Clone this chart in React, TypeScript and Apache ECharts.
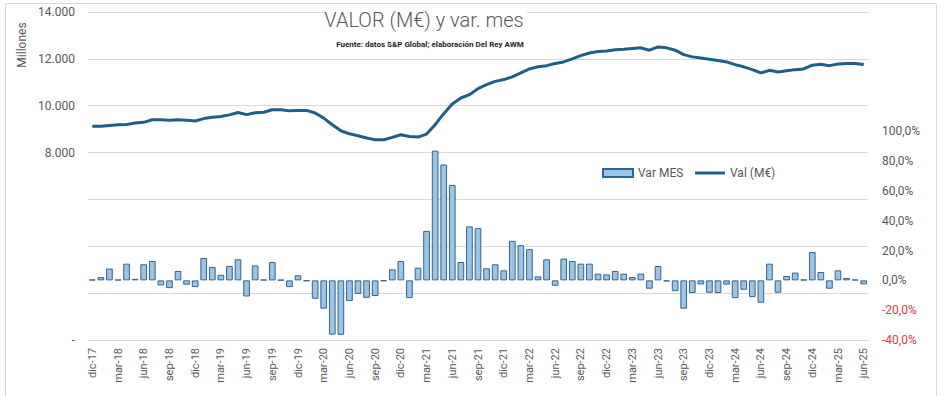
import React, { useEffect, useRef } from 'react';
import * as echarts from 'echarts';

const categories = [
  'dic-17',
  'ene-18', 'feb-18', 'mar-18', 'abr-18', 'may-18', 'jun-18', 'jul-18', 'ago-18', 'sep-18', 'oct-18', 'nov-18', 'dic-18',
  'ene-19', 'feb-19', 'mar-19', 'abr-19', 'may-19', 'jun-19', 'jul-19', 'ago-19', 'sep-19', 'oct-19', 'nov-19', 'dic-19',
  'ene-20', 'feb-20', 'mar-20', 'abr-20', 'may-20', 'jun-20', 'jul-20', 'ago-20', 'sep-20', 'oct-20', 'nov-20', 'dic-20',
  'ene-21', 'feb-21', 'mar-21', 'abr-21', 'may-21', 'jun-21', 'jul-21', 'ago-21', 'sep-21', 'oct-21', 'nov-21', 'dic-21',
  'ene-22', 'feb-22', 'mar-22', 'abr-22', 'may-22', 'jun-22', 'jul-22', 'ago-22', 'sep-22', 'oct-22', 'nov-22', 'dic-22',
  'ene-23', 'feb-23', 'mar-23', 'abr-23', 'may-23', 'jun-23', 'jul-23', 'ago-23', 'sep-23', 'oct-23', 'nov-23', 'dic-23',
  'ene-24', 'feb-24', 'mar-24', 'abr-24', 'may-24', 'jun-24', 'jul-24', 'ago-24', 'sep-24', 'oct-24', 'nov-24', 'dic-24',
  'ene-25', 'feb-25', 'mar-25', 'abr-25', 'may-25', 'jun-25',
];

// Var MES (%), right axis
const varMes = [
  0.5,
  2.2, 7.9, 0.5, 11.2, 1.0, 10.8, 13.0, -3.4, -5.2, 6.3, -2.9, -4.5,
  15.0, 9.0, 3.8, 9.7, 14.1, -10.8, 10.0, 0.5, 12.3, 0.3, -4.5, 3.4,
  -0.5, -12.3, -19.0, -36.4, -36.5, -13.9, -9.0, -11.7, -10.5, -0.5, 7.4, 13.0,
  -11.9, 8.5, 33.2, 87.0, 77.7, 64.0, 12.3, 36.2, 35.0, 8.1, 10.8, 6.7,
  26.5, 23.6, 20.9, 2.7, 14.1, -3.6, 14.6, 13.0, 11.2, 11.2, 4.5, 4.0,
  6.3, 4.5, 2.2, 4.5, -5.6, 9.6, -0.7, -7.2, -19.0, -8.5, -2.7, -8.3,
  -8.5, -2.9, -11.9, -6.3, -11.2, -15.0, 11.2, -8.3, 2.9, 5.2, 0.5, 19.0,
  5.6, -5.6, 6.7, 1.6, 0.5, -2.7,
];

// Val (M€), left axis
const valor = [
  9120,
  9120, 9160, 9190, 9200, 9260, 9290, 9400, 9400, 9380, 9400, 9380, 9350,
  9450, 9510, 9540, 9610, 9710, 9620, 9700, 9720, 9830, 9830, 9780, 9800,
  9800, 9690, 9470, 9190, 8930, 8800, 8720, 8620, 8550, 8550, 8650, 8760,
  8690, 8660, 8790, 9190, 9660, 10075, 10330, 10470, 10730, 10900, 11040, 11115,
  11230, 11400, 11570, 11660, 11710, 11800, 11870, 12000, 12140, 12250, 12310, 12340,
  12385, 12410, 12440, 12470, 12370, 12510, 12470, 12370, 12180, 12085, 12040, 11980,
  11930, 11870, 11755, 11660, 11540, 11400, 11510, 11440, 11490, 11540, 11570, 11730,
  11770, 11710, 11780, 11800, 11800, 11755,
];

const titleText = 'VALOR (M€) y var. mes';
const subtitleText = 'Fuente: datos S&P Global; elaboración Del Rey AWM';

export default function App() {
  const ref = useRef<HTMLDivElement>(null);

  useEffect(() => {
    if (!ref.current) return;
    const chart = echarts.init(ref.current, undefined, { renderer: 'svg' });
    const gray = '#595959';
    chart.setOption({
      animation: false,
      backgroundColor: '#ffffff',
      textStyle: { fontFamily: 'Roboto, "Noto Sans", sans-serif' },
      grid: { left: 88, right: 82, top: 12, bottom: 56 },
      legend: [
        {
          data: [{ name: 'Var MES', icon: 'rect' }],
          left: 597,
          top: 162,
          itemWidth: 30,
          itemHeight: 8,
          itemGap: 15,
          textStyle: { color: gray, fontSize: 12 },
        },
        {
          data: [{ name: 'Val (M€)', icon: 'rect' }],
          left: 690,
          top: 162,
          itemWidth: 30,
          itemHeight: 3,
          itemGap: 15,
          textStyle: { color: gray, fontSize: 12 },
        },
      ],
      xAxis: {
        type: 'category',
        data: categories,
        boundaryGap: true,
        axisLine: { show: false },
        axisTick: { show: false },
        axisLabel: { interval: 2, rotate: 90, color: gray, fontSize: 11, margin: 8 },
      },
      yAxis: [
        {
          type: 'value',
          min: 0,
          max: 14000,
          interval: 2000,
          axisLine: { show: false },
          axisTick: { show: false },
          splitLine: { lineStyle: { color: '#D9D9D9', width: 1 } },
          axisLabel: {
            color: gray,
            fontSize: 12,
            margin: 13,
            formatter: (v: number) => (v === 0 ? '-' : v >= 8000 ? `${v / 1000}.000` : ''),
          },
        },
        {
          type: 'value',
          position: 'right',
          min: -40,
          max: 180,
          interval: 20,
          axisLine: { show: false },
          axisTick: { show: false },
          splitLine: { show: false },
          axisLabel: {
            fontSize: 12,
            margin: 14,
            color: (v: any) => (Number(v) < 0 ? '#E0393E' : gray),
            formatter: (v: number) => (v > 100 ? '' : `${v.toFixed(1).replace('.', ',')}%`),
          },
        },
      ],
      series: [
        {
          name: 'Var MES',
          type: 'bar',
          yAxisIndex: 1,
          data: varMes,
          barCategoryGap: '22%',
          itemStyle: { color: '#9DC3E6', borderColor: '#2F6690', borderWidth: 1 },
        },
        {
          name: 'Val (M€)',
          type: 'line',
          yAxisIndex: 0,
          data: valor,
          symbol: 'none',
          lineStyle: { color: '#1F5F85', width: 3 },
          itemStyle: { color: '#1F5F85' },
        },
      ],
      graphic: [
        {
          type: 'rect',
          shape: { x: 5.5, y: 3.5, width: 931, height: 400 },
          style: { fill: 'none', stroke: '#D9D9D9', lineWidth: 1 },
          silent: true,
          z: 0,
        },
        {
          type: 'rect',
          shape: { x: 325, y: 5, width: 202, height: 47 },
          style: { fill: '#ffffff' },
          silent: true,
          z: 10,
        },
        {
          type: 'text',
          x: 424,
          y: 20,
          z: 11,
          style: {
            text: titleText,
            fill: gray,
            font: '300 20px Roboto, "Noto Sans", sans-serif',
            align: 'center',
            verticalAlign: 'middle',
          },
        },
        {
          type: 'text',
          x: 430,
          y: 44,
          z: 11,
          style: {
            text: subtitleText,
            fill: '#262626',
            font: 'bold 8px Roboto, "Noto Sans", sans-serif',
            align: 'center',
            verticalAlign: 'middle',
          },
        },
        {
          type: 'text',
          x: 22,
          y: 45,
          rotation: Math.PI / 2,
          style: {
            text: 'Millones',
            fill: gray,
            font: '12px Roboto, "Noto Sans", sans-serif',
            align: 'center',
            verticalAlign: 'middle',
          },
        },
      ],
    });
    return () => chart.dispose();
  }, []);

  return (
    <div
      ref={ref}
      style={{ position: 'fixed', left: 0, top: 0, width: 950, height: 396, background: '#fff' }}
    />
  );
}
